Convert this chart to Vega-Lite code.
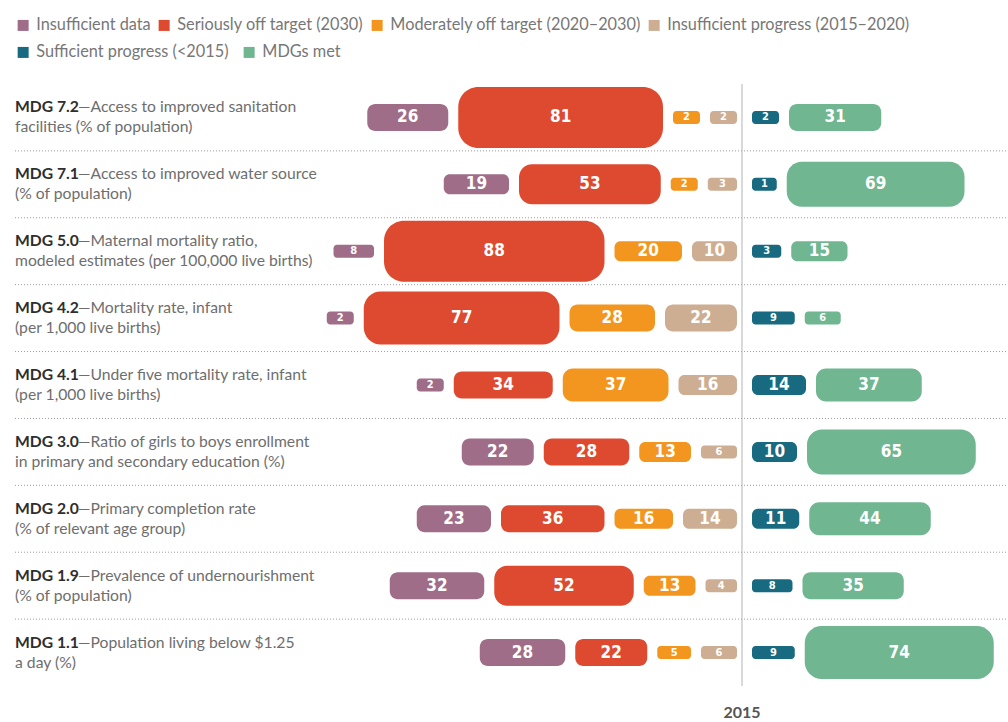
{
  "$schema": "https://vega.github.io/schema/vega-lite/v6.json",
  "width": 1008,
  "height": 602,
  "autosize": {"type": "none"},
  "padding": {"left": 0, "top": 84, "right": 0, "bottom": 36},
  "background": "white",
  "title": {"text": "2015", "orient": "bottom", "anchor": "middle", "frame": "group", "dx": 238, "offset": 18,
            "fontSize": 16, "fontWeight": "bold", "color": "#555555", "font": "Lato"},
  "config": {"view": {"stroke": null}, "font": "Lato"},
  "datasets": {
    "bars": [
      {"indicator": "MDG 7.2", "category": "Insufficient data", "value": 26},
      {"indicator": "MDG 7.2", "category": "Seriously off target (2030)", "value": 81},
      {"indicator": "MDG 7.2", "category": "Moderately off target (2020–2030)", "value": 2},
      {"indicator": "MDG 7.2", "category": "Insufficient progress (2015–2020)", "value": 2},
      {"indicator": "MDG 7.2", "category": "Sufficient progress (<2015)", "value": 2},
      {"indicator": "MDG 7.2", "category": "MDGs met", "value": 31},
      {"indicator": "MDG 7.1", "category": "Insufficient data", "value": 19},
      {"indicator": "MDG 7.1", "category": "Seriously off target (2030)", "value": 53},
      {"indicator": "MDG 7.1", "category": "Moderately off target (2020–2030)", "value": 2},
      {"indicator": "MDG 7.1", "category": "Insufficient progress (2015–2020)", "value": 3},
      {"indicator": "MDG 7.1", "category": "Sufficient progress (<2015)", "value": 1},
      {"indicator": "MDG 7.1", "category": "MDGs met", "value": 69},
      {"indicator": "MDG 5.0", "category": "Insufficient data", "value": 8},
      {"indicator": "MDG 5.0", "category": "Seriously off target (2030)", "value": 88},
      {"indicator": "MDG 5.0", "category": "Moderately off target (2020–2030)", "value": 20},
      {"indicator": "MDG 5.0", "category": "Insufficient progress (2015–2020)", "value": 10},
      {"indicator": "MDG 5.0", "category": "Sufficient progress (<2015)", "value": 3},
      {"indicator": "MDG 5.0", "category": "MDGs met", "value": 15},
      {"indicator": "MDG 4.2", "category": "Insufficient data", "value": 2},
      {"indicator": "MDG 4.2", "category": "Seriously off target (2030)", "value": 77},
      {"indicator": "MDG 4.2", "category": "Moderately off target (2020–2030)", "value": 28},
      {"indicator": "MDG 4.2", "category": "Insufficient progress (2015–2020)", "value": 22},
      {"indicator": "MDG 4.2", "category": "Sufficient progress (<2015)", "value": 9},
      {"indicator": "MDG 4.2", "category": "MDGs met", "value": 6},
      {"indicator": "MDG 4.1", "category": "Insufficient data", "value": 2},
      {"indicator": "MDG 4.1", "category": "Seriously off target (2030)", "value": 34},
      {"indicator": "MDG 4.1", "category": "Moderately off target (2020–2030)", "value": 37},
      {"indicator": "MDG 4.1", "category": "Insufficient progress (2015–2020)", "value": 16},
      {"indicator": "MDG 4.1", "category": "Sufficient progress (<2015)", "value": 14},
      {"indicator": "MDG 4.1", "category": "MDGs met", "value": 37},
      {"indicator": "MDG 3.0", "category": "Insufficient data", "value": 22},
      {"indicator": "MDG 3.0", "category": "Seriously off target (2030)", "value": 28},
      {"indicator": "MDG 3.0", "category": "Moderately off target (2020–2030)", "value": 13},
      {"indicator": "MDG 3.0", "category": "Insufficient progress (2015–2020)", "value": 6},
      {"indicator": "MDG 3.0", "category": "Sufficient progress (<2015)", "value": 10},
      {"indicator": "MDG 3.0", "category": "MDGs met", "value": 65},
      {"indicator": "MDG 2.0", "category": "Insufficient data", "value": 23},
      {"indicator": "MDG 2.0", "category": "Seriously off target (2030)", "value": 36},
      {"indicator": "MDG 2.0", "category": "Moderately off target (2020–2030)", "value": 16},
      {"indicator": "MDG 2.0", "category": "Insufficient progress (2015–2020)", "value": 14},
      {"indicator": "MDG 2.0", "category": "Sufficient progress (<2015)", "value": 11},
      {"indicator": "MDG 2.0", "category": "MDGs met", "value": 44},
      {"indicator": "MDG 1.9", "category": "Insufficient data", "value": 32},
      {"indicator": "MDG 1.9", "category": "Seriously off target (2030)", "value": 52},
      {"indicator": "MDG 1.9", "category": "Moderately off target (2020–2030)", "value": 13},
      {"indicator": "MDG 1.9", "category": "Insufficient progress (2015–2020)", "value": 4},
      {"indicator": "MDG 1.9", "category": "Sufficient progress (<2015)", "value": 8},
      {"indicator": "MDG 1.9", "category": "MDGs met", "value": 35},
      {"indicator": "MDG 1.1", "category": "Insufficient data", "value": 28},
      {"indicator": "MDG 1.1", "category": "Seriously off target (2030)", "value": 22},
      {"indicator": "MDG 1.1", "category": "Moderately off target (2020–2030)", "value": 5},
      {"indicator": "MDG 1.1", "category": "Insufficient progress (2015–2020)", "value": 6},
      {"indicator": "MDG 1.1", "category": "Sufficient progress (<2015)", "value": 9},
      {"indicator": "MDG 1.1", "category": "MDGs met", "value": 74}
    ],
    "labels": [
      {"indicator": "MDG 7.2", "line1": "—Access to improved sanitation", "line2": "facilities (% of population)"},
      {"indicator": "MDG 7.1", "line1": "—Access to improved water source", "line2": "(% of population)"},
      {"indicator": "MDG 5.0", "line1": "—Maternal mortality ratio,", "line2": "modeled estimates (per 100,000 live births)"},
      {"indicator": "MDG 4.2", "line1": "—Mortality rate, infant", "line2": "(per 1,000 live births)"},
      {"indicator": "MDG 4.1", "line1": "—Under five mortality rate, infant", "line2": "(per 1,000 live births)"},
      {"indicator": "MDG 3.0", "line1": "—Ratio of girls to boys enrollment", "line2": "in primary and secondary education (%)"},
      {"indicator": "MDG 2.0", "line1": "—Primary completion rate", "line2": "(% of relevant age group)"},
      {"indicator": "MDG 1.9", "line1": "—Prevalence of undernourishment", "line2": "(% of population)"},
      {"indicator": "MDG 1.1", "line1": "—Population living below $1.25", "line2": "a day (%)"}
    ]
  },
  "layer": [
    {
      "data": {"name": "labels"},
      "transform": [{"filter": "datum.indicator !== 'MDG 1.1'"}],
      "mark": {"type": "rule", "color": "#9a9a9a", "strokeDash": [1, 2], "strokeWidth": 1},
      "encoding": {
        "y": {"field": "indicator", "type": "nominal", "bandPosition": 1,
              "scale": {"domain": ["MDG 7.2", "MDG 7.1", "MDG 5.0", "MDG 4.2", "MDG 4.1", "MDG 3.0", "MDG 2.0", "MDG 1.9", "MDG 1.1"], "paddingInner": 0, "paddingOuter": 0},
              "axis": null},
        "x": {"datum": -323.1, "type": "quantitative",
              "scale": {"domain": [-329.78, 118.22], "nice": false, "zero": false},
              "axis": null},
        "x2": {"datum": 118}
      }
    },
    {
      "data": {"values": [{}]},
      "mark": {"type": "rule", "color": "#b3b3b3", "strokeWidth": 1},
      "encoding": {
        "x": {"datum": 0, "type": "quantitative", "axis": null}
      }
    },
    {
      "data": {"name": "bars"},
      "transform": [
        {"calculate": "(datum.category === 'Sufficient progress (<2015)' || datum.category === 'MDGs met') ? 'R' : 'L'", "as": "side"},
        {"calculate": "indexof(['Insufficient progress (2015–2020)','Moderately off target (2020–2030)','Seriously off target (2030)','Insufficient data','Sufficient progress (<2015)','MDGs met'], datum.category)", "as": "rank"},
        {"calculate": "datum.value + 14.444", "as": "span"},
        {"window": [{"op": "sum", "field": "span", "as": "cum"}], "groupby": ["indicator", "side"], "sort": [{"field": "rank", "order": "ascending"}], "frame": [null, 0]},
        {"calculate": "(datum.side === 'L' ? 2.222 : 4.444) + datum.cum - 4.444", "as": "outer"},
        {"calculate": "datum.outer - datum.value - 10", "as": "inner"},
        {"calculate": "datum.side === 'L' ? -datum.outer : datum.inner", "as": "xa"},
        {"calculate": "datum.side === 'L' ? -datum.inner : datum.outer", "as": "xb"},
        {"calculate": "(datum.xa + datum.xb) / 2", "as": "xm"}
      ],
      "layer": [
        {
          "transform": [{"filter": "datum.side === 'L'"}],
          "mark": {"type": "bar", "cornerRadius": {"expr": "datum.value < 10 ? 3.5 : datum.value < 22 ? 6 : datum.value < 37 ? 8 : datum.value < 50 ? 10 : datum.value < 60 ? 13 : datum.value < 72 ? 15 : datum.value < 80 ? 17 : 20"}},
          "encoding": {
            "y": {"field": "indicator", "type": "nominal", "axis": null},
            "x": {"field": "xa", "type": "quantitative", "axis": null},
            "x2": {"field": "xb"},
            "size": {"field": "value", "type": "quantitative", "legend": null,
                     "scale": {"type": "threshold", "domain": [10, 22, 37, 50, 60, 72, 80], "range": [13, 20, 27, 33, 40, 45, 53, 61]}},
            "color": {"field": "category", "type": "nominal",
                      "scale": {"domain": ["Insufficient data", "Seriously off target (2030)", "Moderately off target (2020–2030)", "Insufficient progress (2015–2020)"],
                                "range": ["#a06d88", "#de4a2f", "#f2961f", "#cdae92"]},
                      "legend": {"orient": "none", "legendX": 15, "legendY": -67, "direction": "horizontal",
                                 "title": null, "symbolType": "square", "symbolSize": 121, "symbolStrokeWidth": 0,
                                 "labelFontSize": 16.3, "labelColor": "#777777", "labelFont": "Lato", "labelOffset": 5,
                                 "columnPadding": 5, "labelLimit": 400}}
          }
        },
        {
          "transform": [{"filter": "datum.side === 'R'"}],
          "mark": {"type": "bar", "cornerRadius": {"expr": "datum.value < 10 ? 3.5 : datum.value < 22 ? 6 : datum.value < 37 ? 8 : datum.value < 50 ? 10 : datum.value < 60 ? 13 : datum.value < 72 ? 15 : datum.value < 80 ? 17 : 20"}},
          "encoding": {
            "y": {"field": "indicator", "type": "nominal", "axis": null},
            "x": {"field": "xa", "type": "quantitative", "axis": null},
            "x2": {"field": "xb"},
            "size": {"field": "value", "type": "quantitative", "legend": null,
                     "scale": {"type": "threshold", "domain": [10, 22, 37, 50, 60, 72, 80], "range": [13, 20, 27, 33, 40, 45, 53, 61]}},
            "color": {"field": "category", "type": "nominal",
                      "scale": {"domain": ["Sufficient progress (<2015)", "MDGs met"],
                                "range": ["#176a80", "#6fb691"]},
                      "legend": {"orient": "none", "legendX": 15, "legendY": -40, "direction": "horizontal",
                                 "title": null, "symbolType": "square", "symbolSize": 121, "symbolStrokeWidth": 0,
                                 "labelFontSize": 16.3, "labelColor": "#777777", "labelFont": "Lato", "labelOffset": 5,
                                 "columnPadding": 12, "labelLimit": 400}}
          }
        },
        {
          "mark": {"type": "text", "color": "white", "fontWeight": "bold", "font": "Liberation Sans Narrow, DejaVu Sans Condensed, sans-serif", "baseline": "middle", "align": "center"},
          "encoding": {
            "y": {"field": "indicator", "type": "nominal", "axis": null},
            "x": {"field": "xm", "type": "quantitative", "axis": null},
            "text": {"field": "value", "type": "quantitative"},
            "size": {"condition": {"test": "datum.value < 10", "value": 11}, "value": 17}
          }
        }
      ],
      "resolve": {"scale": {"color": "independent"}, "legend": {"color": "independent"}}
    },
    {
      "data": {"name": "labels"},
      "layer": [
        {
          "mark": {"type": "text", "align": "left", "baseline": "middle", "dy": -10, "fontSize": 15.7, "fontWeight": "bold", "color": "#2e2e2e", "font": "Lato"},
          "encoding": {
            "y": {"field": "indicator", "type": "nominal", "axis": null},
            "x": {"datum": -323.1, "type": "quantitative", "axis": null},
            "text": {"field": "indicator"}
          }
        },
        {
          "mark": {"type": "text", "align": "left", "baseline": "middle", "dy": -10, "dx": 63, "fontSize": 15.7, "color": "#6e6e6e", "font": "Lato"},
          "encoding": {
            "y": {"field": "indicator", "type": "nominal", "axis": null},
            "x": {"datum": -323.1, "type": "quantitative", "axis": null},
            "text": {"field": "line1"}
          }
        },
        {
          "mark": {"type": "text", "align": "left", "baseline": "middle", "dy": 10, "fontSize": 15.7, "color": "#6e6e6e", "font": "Lato"},
          "encoding": {
            "y": {"field": "indicator", "type": "nominal", "axis": null},
            "x": {"datum": -323.1, "type": "quantitative", "axis": null},
            "text": {"field": "line2"}
          }
        }
      ]
    }
  ]
}
